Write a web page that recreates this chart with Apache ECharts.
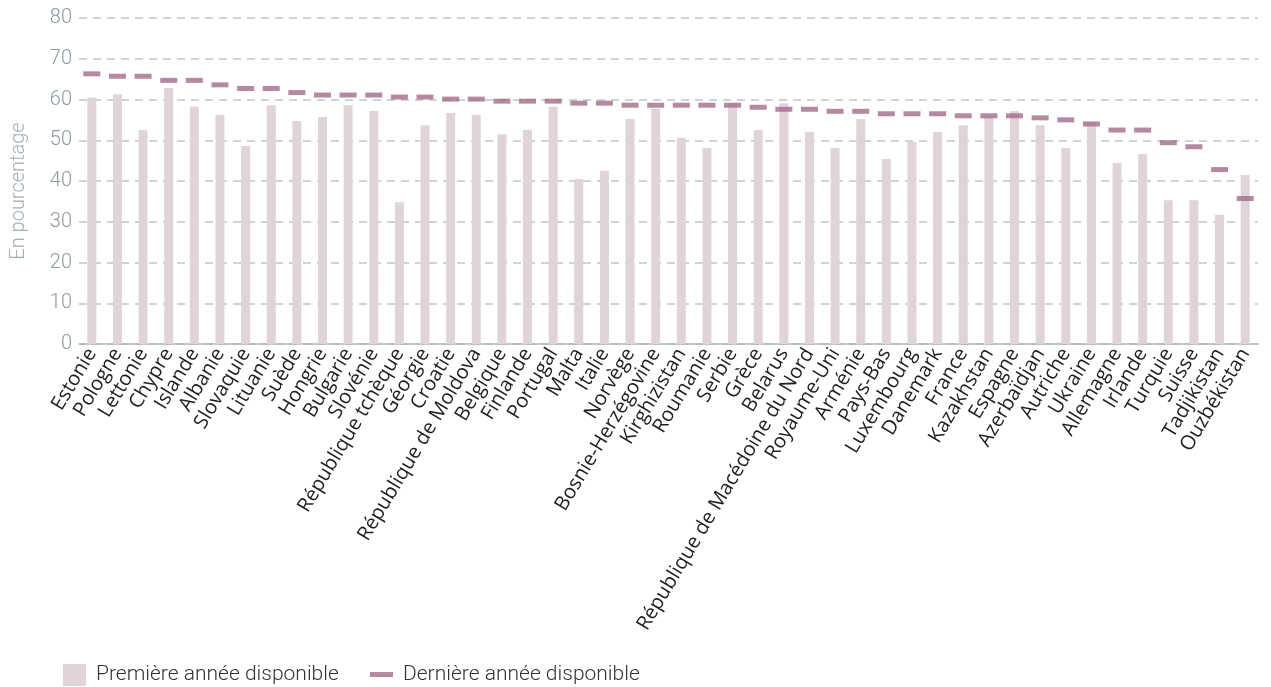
<!DOCTYPE html>
<html>
<head>
<meta charset="utf-8">
<script src="https://cdn.jsdelivr.net/npm/echarts@6/dist/echarts.min.js"></script>
<style>html,body{margin:0;padding:0;background:#fff;}#c{width:1271px;height:687px;}</style>
</head>
<body>
<div id="c"></div>
<script>
const categories = ["Estonie","Pologne","Lettonie","Chypre","Islande","Albanie","Slovaquie","Lituanie","Suède","Hongrie","Bulgarie","Slovénie","République tchèque","Géorgie","Croatie","République de Moldova","Belgique","Finlande","Portugal","Malta","Italie","Norvège","Bosnie-Herzégovine","Kirghizistan","Roumanie","Serbie","Grèce","Belarus","République de Macédoine du Nord","Royaume-Uni","Arménie","Pays-Bas","Luxembourg","Danemark","France","Kazakhstan","Espagne","Azerbaïdjan","Autriche","Ukraine","Allemagne","Irlande","Turquie","Suisse","Tadjikistan","Ouzbékistan"];
const firstYear = [60.4,61.3,52.5,62.8,58.2,56.2,48.6,58.6,54.7,55.7,58.6,57.2,34.8,53.7,56.7,56.2,51.5,52.5,58.2,40.5,42.5,55.2,57.7,50.6,48.1,58.9,52.5,59.1,52.0,48.1,55.2,45.4,49.6,52.0,53.7,55.7,57.2,53.7,48.1,54.5,44.4,46.6,35.3,35.3,31.7,41.5];
const lastYear = [66.3,65.7,65.7,64.7,64.7,63.6,62.7,62.7,61.7,61.1,61.1,61.1,60.6,60.6,60.1,60.1,59.6,59.6,59.6,59.1,59.1,58.6,58.6,58.6,58.6,58.6,58.1,57.6,57.6,57.1,57.1,56.5,56.5,56.5,56.0,56.0,56.0,55.5,55.0,54.0,52.5,52.5,49.4,48.4,42.8,35.7];
const yTicks = {min:0, max:80, interval:10};
const seriesNames = ["Première année disponible","Dernière année disponible"];

const chart = echarts.init(document.getElementById('c'));
const labFam = '"Open Sans",sans-serif';
const uiFam = 'Roboto,sans-serif';
chart.setOption({
  animation:false,
  grid:{left:79,right:13,top:18,bottom:343},
  legend:[
    {data:[{name:seriesNames[0],icon:'rect'}],left:63,top:664,padding:0,itemWidth:23,itemHeight:22,itemGap:10,
     textStyle:{fontFamily:uiFam,fontWeight:300,fontSize:21,color:'#333',padding:[0,0,0,5]}},
    {data:[{name:seriesNames[1],icon:'rect'}],left:370,top:664,padding:0,itemWidth:23,itemHeight:5,itemGap:10,
     textStyle:{fontFamily:uiFam,fontWeight:300,fontSize:21,color:'#333',padding:[0,0,0,5]}}
  ],
  xAxis:{type:'category',data:categories,
    axisLine:{lineStyle:{color:'#a9b9bd',width:1.5}},axisTick:{show:false},
    axisLabel:{interval:0,rotate:59,fontFamily:labFam,fontSize:20,color:'#1e1e1e',margin:6}},
  yAxis:{type:'value',min:yTicks.min,max:yTicks.max,interval:yTicks.interval,
    name:'En pourcentage',nameLocation:'middle',nameGap:50,
    nameTextStyle:{fontFamily:uiFam,fontWeight:300,fontSize:20,color:'#a3afb4',padding:[0,20,0,0]},
    axisLine:{show:false},axisTick:{show:false},
    axisLabel:{fontFamily:uiFam,fontWeight:300,fontSize:20,color:'#8d9ba1',margin:7},
    splitLine:{lineStyle:{color:'#bcc6ca',type:[8,6],width:1.5}}},
  series:[
    {name:seriesNames[0],type:'bar',data:firstYear,barWidth:9,itemStyle:{color:'#e0d3da'}},
    {name:seriesNames[1],type:'scatter',data:lastYear,symbol:'rect',symbolSize:[17,5],itemStyle:{color:'#a26b8b'},z:3}
  ]
});
</script>
</body>
</html>
